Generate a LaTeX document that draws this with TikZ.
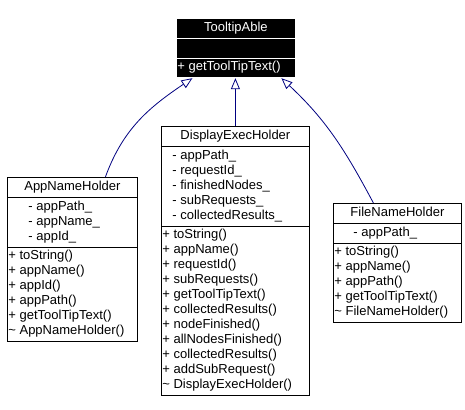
\documentclass[tikz,border=0pt]{standalone}
\usepackage{fontspec}
\setmainfont{Liberation Sans}
\usetikzlibrary{arrows.meta}
\usetikzlibrary{shapes.multipart}
\definecolor{navy}{RGB}{0,0,128}
\newcommand{\members}[1]{\begin{tabular}{@{}l@{}}#1\end{tabular}}
\tikzset{
	every node/.style = {font=\fontsize{13}{15}\selectfont},
	umlclass/.style = {draw, line width=0.8pt, anchor=north west,
		rectangle split, rectangle split parts=3,
		rectangle split part align={center,left,left},
		inner xsep=1pt, inner ysep=2pt},
	abstractclass/.style = {umlclass, fill=black, draw=white, text=white},
	inherit/.style = {navy, line width=0.8pt, -{Triangle[open, length=11pt, width=9pt]}}
}

\begin{document}
\begin{tikzpicture}[x=1pt, y=1pt]
	\useasboundingbox (0,0) rectangle (465,409);
	\node (tip) [abstractclass, minimum width=119pt] at (176,391)
		{\strut TooltipAble
		\nodepart{two}\strut
		\nodepart{three}\strut + getToolTipText()};
	\node (app) [umlclass, minimum width=130pt] at (7,232)
		{\strut AppNameHolder
		\nodepart{two}\hspace*{20pt}\members{- appPath\_\\ - appName\_\\ - appId\_}
		\nodepart{three}\members{+ toString()\\ + appName()\\ + appId()\\ + appPath()\\
			+ getToolTipText()\\ \textasciitilde\ AppNameHolder()}};
	\node (dex) [umlclass, minimum width=148pt] at (161,283)
		{\strut DisplayExecHolder
		\nodepart{two}\hspace*{10pt}\members{- appPath\_\\ - requestId\_\\ - finishedNodes\_\\
			- subRequests\_\\ - collectedResults\_}
		\nodepart{three}\members{+ toString()\\ + appName()\\ + requestId()\\ + subRequests()\\
			+ getToolTipText()\\ + collectedResults()\\ + nodeFinished()\\ + allNodesFinished()\\
			+ collectedResults()\\ + addSubRequest()\\ \textasciitilde\ DisplayExecHolder()}};
	\node (fnh) [umlclass, minimum width=128pt] at (333,206)
		{\strut FileNameHolder
		\nodepart{two}\hspace*{19pt}\members{- appPath\_}
		\nodepart{three}\members{+ toString()\\ + appName()\\ + appPath()\\
			+ getToolTipText()\\ \textasciitilde\ FileNameHolder()}};
	\draw[inherit] ([xshift=33pt]app.north) to [out=70,in=214] ([xshift=-43.5pt]tip.south);
	\draw[inherit] (dex.north) -- (dex.north |- tip.south);
	\draw[inherit] ([xshift=-24pt]fnh.north) to [out=118,in=-43] ([xshift=45.5pt]tip.south);
\end{tikzpicture}
\end{document}
